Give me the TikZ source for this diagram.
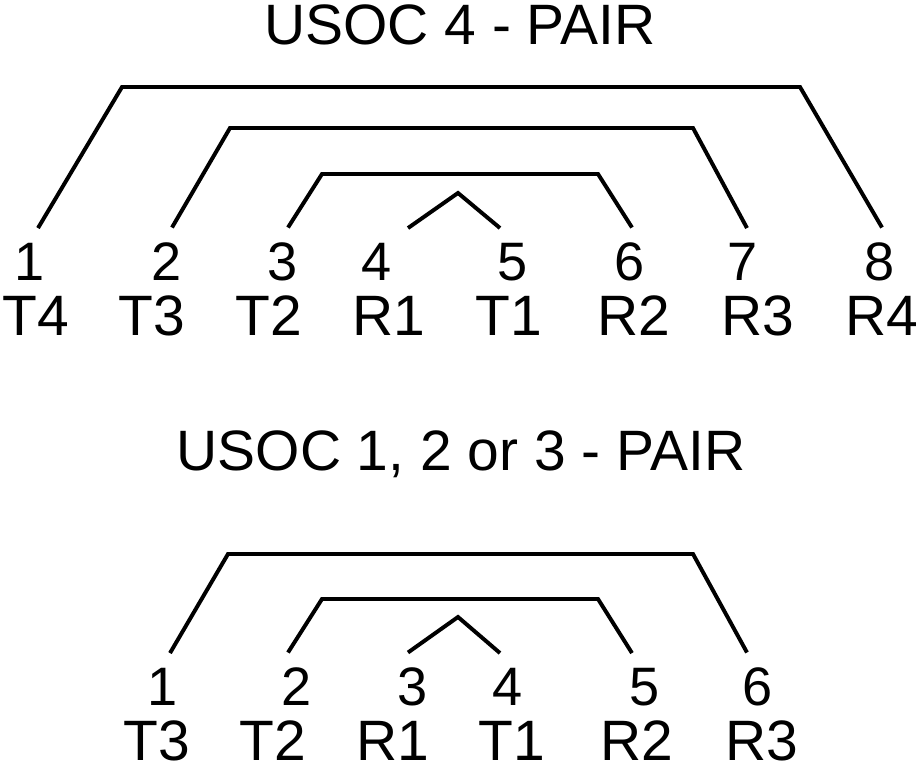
\documentclass[tikz,border=0pt]{standalone}
\usepackage{fontspec}
\setmainfont{Liberation Sans}
\begin{document}
\begin{tikzpicture}[x=0.025cm,y=-0.025cm,
  pinnum/.style={font=\fontsize{38.5}{42}\selectfont,inner xsep=0pt,inner ysep=0.36cm,anchor=base},
  signame/.style={font=\fontsize{40.5}{44}\selectfont,inner sep=0pt,anchor=base},
  heading/.style={font=\fontsize{40.5}{44}\selectfont,inner sep=0pt,anchor=base},
  wire/.style={line width=2.8pt,line join=miter}]
  \useasboundingbox (0,0) rectangle (920,768);
  % USOC 4 - pair jack
  \node[heading] (head4) at (460,45) {USOC 4 - PAIR};
  \foreach \n/\x/\s/\sx in {1/30/T4/36,2/167/T3/152,3/283/T2/269,4/377/R1/389,
                            5/513/T1/509,6/630/R2/634,7/743/R3/758,8/880/R4/882} {
    \node[pinnum] (a\n) at (\x,280) {\n};
    \node[signame] (as\n) at (\sx,335) {\s};
  }
  \draw[wire] ([xshift=0.2cm]a1.north) -- (122,87) -- (800,87) -- ([xshift=0.05cm]a8.north);
  \draw[wire] ([xshift=0.125cm]a2.north) -- (230,128) -- (693,128) -- ([xshift=0.1cm]a7.north);
  \draw[wire] ([xshift=0.125cm]a3.north) -- (322,174) -- (598,174) -- ([xshift=0.05cm]a6.north);
  \draw[wire] ([xshift=0.775cm]a4.north) -- (458,193) -- ([xshift=-0.325cm]a5.north);
  % USOC 1, 2 or 3 - pair jack
  \node[heading] (head3) at (461,470) {USOC 1, 2 or 3 - PAIR};
  \foreach \n/\x/\s/\sx in {1/163/T3/157,2/297/T2/273,3/413/R1/393,
                            4/508/T1/512,5/645/R2/637,6/758/R3/762} {
    \node[pinnum] (b\n) at (\x,705) {\n};
    \node[signame] (bs\n) at (\sx,760) {\s};
  }
  \draw[wire] ([xshift=0.175cm]b1.north) -- (228,554) -- (693,554) -- ([xshift=-0.275cm]b6.north);
  \draw[wire] ([xshift=-0.225cm]b2.north) -- (322,599) -- (598,599) -- ([xshift=-0.325cm]b5.north);
  \draw[wire] ([xshift=-0.125cm]b3.north) -- (458,617) -- ([xshift=-0.2cm]b4.north);
\end{tikzpicture}
\end{document}
